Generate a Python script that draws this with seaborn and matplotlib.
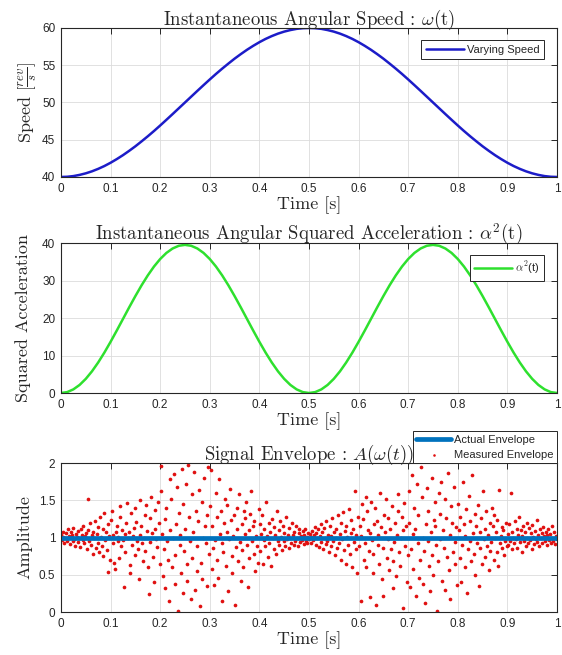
"""
Angular speed, squared acceleration and signal envelope, MATLAB-style panels.
Saves the figure to out.png
"""

import matplotlib
matplotlib.use("Agg")
import matplotlib.pyplot as plt
import seaborn as sns

# ── Data ──
curve_t = [0.0, 0.0125, 0.025, 0.0375, 0.05, 0.0625, 0.075, 0.0875, 0.1, 0.1125,
           0.125, 0.1375, 0.15, 0.1625, 0.175, 0.1875, 0.2, 0.2125, 0.225, 0.2375,
           0.25, 0.2625, 0.275, 0.2875, 0.3, 0.3125, 0.325, 0.3375, 0.35, 0.3625,
           0.375, 0.3875, 0.4, 0.4125, 0.425, 0.4375, 0.45, 0.4625, 0.475, 0.4875,
           0.5, 0.5125, 0.525, 0.5375, 0.55, 0.5625, 0.575, 0.5875, 0.6, 0.6125,
           0.625, 0.6375, 0.65, 0.6625, 0.675, 0.6875, 0.7, 0.7125, 0.725, 0.7375,
           0.75, 0.7625, 0.775, 0.7875, 0.8, 0.8125, 0.825, 0.8375, 0.85, 0.8625,
           0.875, 0.8875, 0.9, 0.9125, 0.925, 0.9375, 0.95, 0.9625, 0.975, 0.9875, 1.0]

speed = [40.00, 40.03, 40.12, 40.28, 40.49, 40.76, 41.09, 41.47, 41.91, 42.40,
         42.93, 43.51, 44.12, 44.78, 45.46, 46.17, 46.91, 47.67, 48.44, 49.22,
         50.00, 50.78, 51.56, 52.33, 53.09, 53.83, 54.54, 55.22, 55.88, 56.49,
         57.07, 57.60, 58.09, 58.53, 58.91, 59.24, 59.51, 59.72, 59.88, 59.97,
         60.00, 59.97, 59.88, 59.72, 59.51, 59.24, 58.91, 58.53, 58.09, 57.60,
         57.07, 56.49, 55.88, 55.22, 54.54, 53.83, 53.09, 52.33, 51.56, 50.78,
         50.00, 49.22, 48.44, 47.67, 46.91, 46.17, 45.46, 44.78, 44.12, 43.51,
         42.93, 42.40, 41.91, 41.47, 41.09, 40.76, 40.49, 40.28, 40.12, 40.03, 40.00]

accel_sq = [0.00, 0.24, 0.97, 2.15, 3.77, 5.78, 8.14, 10.78, 13.65, 16.66,
            19.75, 22.84, 25.85, 28.72, 31.36, 33.72, 35.73, 37.35, 38.53, 39.26,
            39.50, 39.26, 38.53, 37.35, 35.73, 33.72, 31.36, 28.72, 25.85, 22.84,
            19.75, 16.66, 13.65, 10.78, 8.14, 5.78, 3.77, 2.15, 0.97, 0.24,
            0.00, 0.24, 0.97, 2.15, 3.77, 5.78, 8.14, 10.78, 13.65, 16.66,
            19.75, 22.84, 25.85, 28.72, 31.36, 33.72, 35.73, 37.35, 38.53, 39.26,
            39.50, 39.26, 38.53, 37.35, 35.73, 33.72, 31.36, 28.72, 25.85, 22.84,
            19.75, 16.66, 13.65, 10.78, 8.14, 5.78, 3.77, 2.15, 0.97, 0.24, 0.00]

actual_t = [0.0, 1.0]
actual_amp = [1.0, 1.0]

env_t = [
    0.001, 0.002, 0.004, 0.005, 0.007, 0.009, 0.010, 0.012, 0.014, 0.015,
    0.017, 0.019, 0.020, 0.022, 0.024, 0.025, 0.027, 0.029, 0.030, 0.032,
    0.034, 0.035, 0.037, 0.039, 0.040, 0.042, 0.044, 0.045, 0.047, 0.049,
    0.050, 0.052, 0.054, 0.055, 0.057, 0.059, 0.060, 0.062, 0.064, 0.065,
    0.067, 0.069, 0.070, 0.072, 0.074, 0.075, 0.077, 0.079, 0.080, 0.082,
    0.084, 0.085, 0.087, 0.089, 0.090, 0.092, 0.094, 0.095, 0.097, 0.099,
    0.101, 0.102, 0.104, 0.105, 0.107, 0.109, 0.110, 0.112, 0.114, 0.115,
    0.117, 0.119, 0.120, 0.122, 0.124, 0.125, 0.127, 0.129, 0.130, 0.132,
    0.134, 0.135, 0.137, 0.139, 0.140, 0.142, 0.144, 0.145, 0.147, 0.149,
    0.150, 0.152, 0.154, 0.155, 0.157, 0.159, 0.160, 0.162, 0.164, 0.165,
    0.167, 0.169, 0.170, 0.172, 0.174, 0.175, 0.177, 0.179, 0.180, 0.182,
    0.184, 0.185, 0.187, 0.189, 0.190, 0.192, 0.194, 0.195, 0.197, 0.199,
    0.201, 0.202, 0.204, 0.205, 0.207, 0.209, 0.210, 0.212, 0.214, 0.215,
    0.217, 0.219, 0.220, 0.222, 0.224, 0.225, 0.227, 0.229, 0.230, 0.232,
    0.234, 0.235, 0.237, 0.239, 0.240, 0.242, 0.244, 0.245, 0.247, 0.249,
    0.250, 0.252, 0.254, 0.255, 0.257, 0.259, 0.260, 0.262, 0.264, 0.265,
    0.267, 0.269, 0.270, 0.272, 0.274, 0.275, 0.277, 0.279, 0.280, 0.282,
    0.284, 0.285, 0.287, 0.289, 0.290, 0.292, 0.294, 0.295, 0.297, 0.299,
    0.301, 0.302, 0.304, 0.305, 0.307, 0.309, 0.310, 0.312, 0.314, 0.315,
    0.317, 0.319, 0.320, 0.322, 0.324, 0.325, 0.327, 0.329, 0.330, 0.332,
    0.334, 0.335, 0.337, 0.339, 0.340, 0.342, 0.344, 0.345, 0.347, 0.349,
    0.350, 0.352, 0.354, 0.355, 0.357, 0.359, 0.360, 0.362, 0.364, 0.365,
    0.367, 0.369, 0.370, 0.372, 0.374, 0.375, 0.377, 0.379, 0.380, 0.382,
    0.384, 0.385, 0.387, 0.389, 0.390, 0.392, 0.394, 0.395, 0.397, 0.399,
    0.401, 0.402, 0.404, 0.405, 0.407, 0.409, 0.410, 0.412, 0.414, 0.415,
    0.417, 0.419, 0.420, 0.422, 0.424, 0.425, 0.427, 0.429, 0.430, 0.432,
    0.434, 0.435, 0.437, 0.439, 0.440, 0.442, 0.444, 0.445, 0.447, 0.449,
    0.450, 0.452, 0.454, 0.455, 0.457, 0.459, 0.460, 0.462, 0.464, 0.465,
    0.467, 0.469, 0.470, 0.472, 0.474, 0.475, 0.477, 0.479, 0.480, 0.482,
    0.484, 0.485, 0.487, 0.489, 0.490, 0.492, 0.494, 0.495, 0.497, 0.499,
    0.501, 0.502, 0.504, 0.505, 0.507, 0.509, 0.510, 0.512, 0.514, 0.515,
    0.517, 0.519, 0.520, 0.522, 0.524, 0.525, 0.527, 0.529, 0.530, 0.532,
    0.534, 0.535, 0.537, 0.539, 0.540, 0.542, 0.544, 0.545, 0.547, 0.549,
    0.550, 0.552, 0.554, 0.555, 0.557, 0.559, 0.560, 0.562, 0.564, 0.565,
    0.567, 0.569, 0.570, 0.572, 0.574, 0.575, 0.577, 0.579, 0.580, 0.582,
    0.584, 0.585, 0.587, 0.589, 0.590, 0.592, 0.594, 0.595, 0.597, 0.599,
    0.601, 0.602, 0.604, 0.605, 0.607, 0.609, 0.610, 0.612, 0.614, 0.615,
    0.617, 0.619, 0.620, 0.622, 0.624, 0.625, 0.627, 0.629, 0.630, 0.632,
    0.634, 0.635, 0.637, 0.639, 0.640, 0.642, 0.644, 0.645, 0.647, 0.649,
    0.650, 0.652, 0.654, 0.655, 0.657, 0.659, 0.660, 0.662, 0.664, 0.665,
    0.667, 0.669, 0.670, 0.672, 0.674, 0.675, 0.677, 0.679, 0.680, 0.682,
    0.684, 0.685, 0.687, 0.689, 0.690, 0.692, 0.694, 0.695, 0.697, 0.699,
    0.701, 0.702, 0.704, 0.705, 0.707, 0.709, 0.710, 0.712, 0.714, 0.715,
    0.717, 0.719, 0.720, 0.722, 0.724, 0.725, 0.727, 0.729, 0.730, 0.732,
    0.734, 0.735, 0.737, 0.739, 0.740, 0.742, 0.744, 0.745, 0.747, 0.749,
    0.750, 0.752, 0.754, 0.755, 0.757, 0.759, 0.760, 0.762, 0.764, 0.765,
    0.767, 0.769, 0.770, 0.772, 0.774, 0.775, 0.777, 0.779, 0.780, 0.782,
    0.784, 0.785, 0.787, 0.789, 0.790, 0.792, 0.794, 0.795, 0.797, 0.799,
    0.801, 0.802, 0.804, 0.805, 0.807, 0.809, 0.810, 0.812, 0.814, 0.815,
    0.817, 0.819, 0.820, 0.822, 0.824, 0.825, 0.827, 0.829, 0.830, 0.832,
    0.834, 0.835, 0.837, 0.839, 0.840, 0.842, 0.844, 0.845, 0.847, 0.849,
    0.850, 0.852, 0.854, 0.855, 0.857, 0.859, 0.860, 0.862, 0.864, 0.865,
    0.867, 0.869, 0.870, 0.872, 0.874, 0.875, 0.877, 0.879, 0.880, 0.882,
    0.884, 0.885, 0.887, 0.889, 0.890, 0.892, 0.894, 0.895, 0.897, 0.899,
    0.901, 0.902, 0.904, 0.905, 0.907, 0.909, 0.910, 0.912, 0.914, 0.915,
    0.917, 0.919, 0.920, 0.922, 0.924, 0.925, 0.927, 0.929, 0.930, 0.932,
    0.934, 0.935, 0.937, 0.939, 0.940, 0.942, 0.944, 0.945, 0.947, 0.949,
    0.950, 0.952, 0.954, 0.955, 0.957, 0.959, 0.960, 0.962, 0.964, 0.965,
    0.967, 0.969, 0.970, 0.972, 0.974, 0.975, 0.977, 0.979, 0.980, 0.982,
    0.984, 0.985, 0.987, 0.989, 0.990, 0.992, 0.994, 0.995, 0.997, 0.999,
]

env_amp = [
    # 0.0 - 0.1
    1.04, 0.97, 1.01, 1.08, 0.93, 1.00, 1.06, 0.95, 1.11, 0.99,
    1.02, 0.91, 1.07, 1.03, 0.96, 1.13, 0.98, 0.89, 1.05, 1.01,
    0.94, 1.09, 1.00, 0.87, 1.12, 1.04, 0.97, 1.16, 0.92, 1.02,
    1.06, 0.84, 1.10, 1.52, 0.96, 1.19, 0.90, 1.03, 0.78, 1.08,
    0.99, 1.22, 0.86, 1.05, 1.14, 0.93, 0.80, 1.27, 1.01, 0.88,
    1.11, 0.75, 1.33, 0.97, 1.07, 0.83, 1.18, 0.54, 1.02, 0.70,
    # 0.1 - 0.2
    1.24, 1.36, 0.92, 1.03, 0.66, 0.58, 1.08, 1.15, 0.95, 1.01,
    0.72, 1.42, 1.28, 0.88, 1.10, 0.97, 0.34, 0.80, 1.05, 1.19,
    1.47, 0.99, 1.07, 0.63, 0.52, 1.33, 0.90, 1.02, 1.13, 0.76,
    1.39, 1.21, 0.96, 0.85, 0.45, 1.04, 1.50, 1.16, 0.93, 0.69,
    1.00, 0.82, 1.30, 1.44, 1.09, 0.60, 0.24, 0.94, 1.26, 1.55,
    1.06, 0.74, 0.40, 1.37, 1.12, 0.98, 0.87, 1.48, 1.20, 0.65,
    # 0.2 - 0.3
    1.62, 1.96, 1.05, 0.48, 0.84, 0.32, 1.25, 1.40, 0.95, 0.70,
    0.15, 1.78, 1.10, 1.52, 0.60, 0.99, 1.85, 0.38, 0.77, 1.18,
    1.68, 0.02, 1.33, 0.90, 1.03, 0.52, 1.92, 1.45, 0.26, 0.82,
    1.12, 1.72, 0.64, 0.42, 1.97, 1.28, 0.96, 0.18, 0.73, 1.58,
    1.07, 1.88, 0.30, 1.36, 0.55, 0.88, 1.22, 1.64, 0.08, 0.66,
    1.48, 0.44, 1.00, 1.80, 1.15, 0.92, 0.35, 1.30, 1.95, 0.78,
    # 0.3 - 0.4
    1.42, 1.90, 0.58, 1.15, 0.86, 0.36, 0.97, 1.60, 1.28, 0.70,
    0.46, 1.78, 1.05, 1.35, 0.92, 0.15, 0.80, 1.20, 1.52, 0.62,
    1.44, 1.08, 0.28, 0.98, 1.65, 1.24, 0.75, 0.53, 1.02, 1.30,
    0.10, 0.87, 1.40, 1.12, 0.68, 1.58, 0.94, 0.42, 1.18, 0.83,
    0.60, 1.36, 1.26, 1.05, 1.48, 0.90, 0.34, 1.10, 0.72, 1.32,
    1.63, 0.96, 1.15, 0.78, 1.22, 0.55, 1.02, 0.88, 0.66, 1.38,
    # 0.4 - 0.5
    1.18, 0.82, 1.05, 1.30, 0.64, 0.97, 1.12, 0.88, 1.48, 1.02,
    0.74, 1.20, 0.93, 1.08, 0.62, 1.25, 0.99, 0.85, 1.14, 1.03,
    0.78, 1.36, 0.95, 1.10, 0.90, 1.22, 1.01, 0.83, 1.16, 0.96,
    1.06, 0.88, 1.27, 0.98, 1.04, 0.86, 1.13, 1.00, 0.92, 1.19,
    1.03, 0.90, 1.08, 0.95, 1.15, 0.99, 0.88, 1.06, 1.11, 0.94,
    1.02, 0.97, 1.09, 0.91, 1.04, 1.12, 0.96, 1.01, 0.93, 1.06,
    # 0.5 - 0.6
    0.98, 1.05, 1.01, 0.93, 1.09, 0.97, 1.03, 1.14, 0.90, 1.06,
    0.99, 1.11, 0.87, 1.02, 1.18, 0.94, 1.07, 0.84, 1.13, 1.00,
    0.91, 1.22, 0.96, 1.04, 0.80, 1.16, 1.02, 0.89, 1.26, 0.95,
    1.08, 0.76, 1.12, 1.00, 0.86, 1.30, 0.93, 1.05, 0.70, 1.19,
    0.98, 1.34, 0.83, 1.09, 0.64, 1.15, 1.01, 0.90, 1.38, 0.78,
    1.06, 1.24, 0.60, 1.11, 0.94, 1.62, 0.85, 1.03, 0.52, 1.28,
    # 0.6 - 0.7
    0.88, 1.16, 0.15, 1.02, 1.45, 1.25, 0.70, 0.93, 0.60, 1.55,
    1.35, 1.10, 0.82, 0.20, 1.06, 1.48, 0.97, 0.52, 0.78, 1.18,
    1.40, 0.10, 1.22, 0.90, 1.03, 0.64, 1.60, 1.14, 0.44, 0.86,
    0.21, 1.30, 1.08, 1.52, 0.72, 0.98, 1.26, 0.56, 1.12, 0.84,
    1.42, 0.32, 0.68, 0.94, 1.20, 0.48, 1.04, 1.36, 1.58, 0.80,
    0.62, 1.00, 1.28, 1.10, 0.06, 1.46, 0.89, 1.16, 0.40, 0.76,
    # 0.7 - 0.8
    1.62, 1.20, 0.34, 0.85, 1.84, 1.05, 0.58, 1.40, 1.12, 0.22,
    1.72, 0.92, 1.30, 0.46, 0.70, 1.95, 1.55, 1.00, 0.38, 0.82,
    0.12, 1.18, 1.66, 0.95, 1.36, 0.62, 0.28, 1.08, 1.80, 0.76,
    0.50, 1.24, 1.48, 1.15, 0.90, 0.02, 0.68, 1.60, 1.32, 0.98,
    1.75, 0.42, 1.10, 0.86, 1.52, 0.30, 1.26, 0.74, 1.86, 0.56,
    0.18, 1.03, 1.42, 1.20, 0.80, 1.68, 0.64, 0.94, 1.14, 0.36,
    # 0.8 - 0.9
    1.45, 1.10, 0.72, 1.28, 0.40, 0.90, 1.74, 1.18, 0.60, 1.02,
    1.38, 0.26, 0.84, 1.56, 0.96, 1.22, 0.68, 1.84, 1.06, 0.78,
    1.32, 0.50, 1.15, 0.92, 1.44, 0.35, 1.08, 0.86, 1.26, 0.64,
    1.62, 0.98, 1.12, 0.74, 1.36, 0.88, 1.04, 0.56, 1.20, 0.82,
    0.94, 1.40, 1.16, 0.70, 1.30, 1.00, 1.08, 0.80, 1.24, 0.62,
    1.64, 0.92, 1.02, 0.86, 1.14, 1.10, 0.76, 0.96, 1.20, 0.88,
    # 0.9 - 1.0
    1.05, 0.90, 1.18, 0.96, 1.60, 0.84, 1.08, 1.00, 0.92, 1.22,
    0.98, 1.12, 0.86, 1.04, 1.28, 0.94, 1.10, 0.80, 1.02, 1.15,
    0.95, 1.07, 0.89, 1.20, 1.00, 0.93, 1.13, 0.97, 1.06, 0.85,
    1.17, 1.01, 0.91, 1.09, 0.98, 1.24, 0.94, 1.04, 0.88, 1.11,
    0.99, 1.06, 0.92, 1.14, 1.02, 0.96, 1.08, 0.90, 1.03, 1.12,
    0.97, 1.05, 0.93, 1.16, 1.00, 0.95, 1.07, 0.91, 1.02, 0.98,
]

x_ticks = [0, 0.1, 0.2, 0.3, 0.4, 0.5, 0.6, 0.7, 0.8, 0.9, 1]
x_labels = ["0", "0.1", "0.2", "0.3", "0.4", "0.5", "0.6", "0.7", "0.8", "0.9", "1"]

# ── Style ──
sns.set_theme(style="white")
plt.rcParams["font.family"] = ["Liberation Sans", "DejaVu Sans"]
plt.rcParams["mathtext.fontset"] = "cm"

AX_COLOR = "#262626"
SERIF = ["cmr10", "DejaVu Serif"]

fig = plt.figure(figsize=(5.62, 6.55), dpi=100)
fig.patch.set_facecolor("white")

positions = [
    [0.1085, 0.7298, 0.8826, 0.2275],
    [0.1085, 0.4000, 0.8826, 0.2290],
    [0.1085, 0.0656, 0.8826, 0.2275],
]
axes = [fig.add_axes(p) for p in positions]


def matlab_axes(ax, yticks, ylim):
    ax.set_xlim(0, 1)
    ax.set_ylim(*ylim)
    ax.set_xticks(x_ticks)
    ax.set_xticklabels(x_labels)
    ax.set_yticks(yticks)
    ax.grid(True, color="#dcdcdc", linewidth=0.6)
    ax.set_axisbelow(True)
    for s in ax.spines.values():
        s.set_visible(True)
        s.set_color(AX_COLOR)
        s.set_linewidth(0.8)
    ax.tick_params(direction="in", length=4, width=0.7, colors=AX_COLOR,
                   labelsize=8.5, top=True, right=True, pad=4)
    ax.set_xlabel("Time [s]", fontsize=13, family=SERIF, color=AX_COLOR, labelpad=1)


# ── Panel 1: speed ──
ax = axes[0]
sns.lineplot(x=curve_t, y=speed, ax=ax, color="#1c1cc8", linewidth=1.8,
             label="Varying Speed")
matlab_axes(ax, [40, 45, 50, 55, 60], (40, 60))
ax.set_title(r"Instantaneous Angular Speed : $\omega$(t)", fontsize=13.5,
             family=SERIF, pad=2)
ax.set_ylabel(r"Speed $\left[\frac{rev}{s}\right]$", fontsize=13,
              family=SERIF, color=AX_COLOR, labelpad=3)

# ── Panel 2: squared acceleration ──
ax = axes[1]
sns.lineplot(x=curve_t, y=accel_sq, ax=ax, color="#2ee02e", linewidth=1.8,
             label=r"$\alpha^2$(t)")
matlab_axes(ax, [0, 10, 20, 30, 40], (0, 40))
ax.set_title(r"Instantaneous Angular Squared Acceleration : $\alpha^2$(t)",
             fontsize=13.5, family=SERIF, pad=2)
ax.set_ylabel("Squared Acceleration", fontsize=13, family=SERIF,
              color=AX_COLOR, labelpad=8)

# ── Panel 3: envelope ──
ax = axes[2]
sns.lineplot(x=actual_t, y=actual_amp, ax=ax, color="#0072BD", linewidth=3.4,
             label="Actual Envelope")
sns.scatterplot(x=env_t, y=env_amp, ax=ax, color="#e01010", s=7,
                linewidth=0, label="Measured Envelope")
matlab_axes(ax, [0, 0.5, 1, 1.5, 2], (0, 2))
ax.set_yticklabels(["0", "0.5", "1", "1.5", "2"])
ax.set_title(r"Signal Envelope : $A(\omega(t))$", fontsize=13.5,
             family=SERIF, pad=2)
ax.set_ylabel("Amplitude", fontsize=13, family=SERIF, color=AX_COLOR,
              labelpad=5)

# ── Legends ──
leg_kw = dict(fontsize=8, frameon=True, fancybox=False, framealpha=1,
              edgecolor=AX_COLOR, handletextpad=0.3)
for ax in axes[:2]:
    leg = ax.legend(loc="upper right", bbox_to_anchor=(0.985, 0.955),
                    handlelength=3.4, borderpad=0.4, **leg_kw)
    leg.get_frame().set_linewidth(0.7)
leg = axes[2].legend(loc="lower right", bbox_to_anchor=(1.0, 1.0),
                     borderaxespad=0, labelspacing=0.45, borderpad=0.3,
                     handlelength=3.1, markerscale=0.7, **leg_kw)
leg.get_frame().set_linewidth(0.7)

plt.savefig("out.png", dpi=100, facecolor=fig.get_facecolor())
plt.close()
